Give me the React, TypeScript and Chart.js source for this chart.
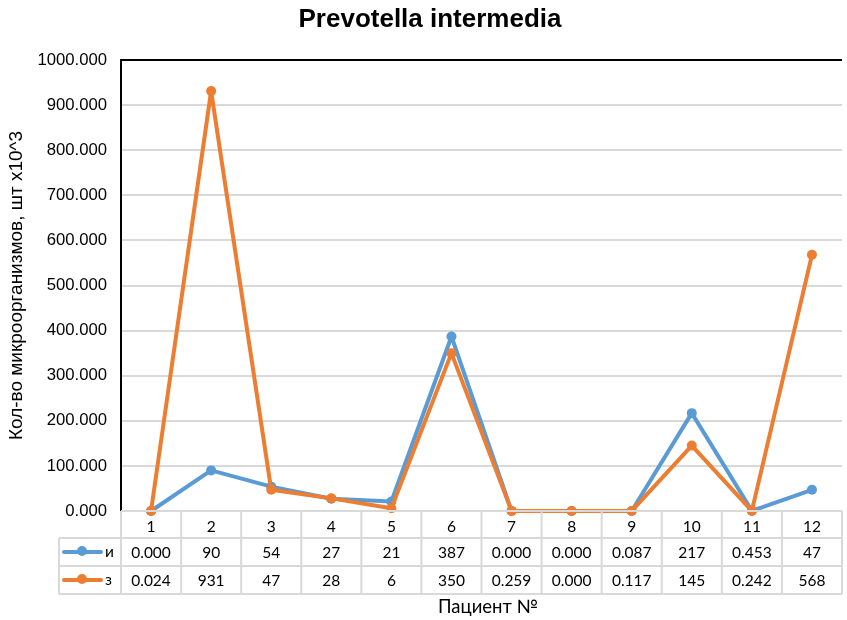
import React, { useEffect, useRef } from "react";
import { Chart, registerables } from "chart.js";

Chart.register(...registerables);

const categories = ["1", "2", "3", "4", "5", "6", "7", "8", "9", "10", "11", "12"];
const seriesNames = ["и", "з"];
const valuesI = [0, 90, 54, 27, 21, 387, 0, 0, 0.087, 217, 0.453, 47];
const valuesZ = [0.024, 931, 47, 28, 6, 350, 0.259, 0, 0.117, 145, 0.242, 568];
const labelsI = ["0.000", "90", "54", "27", "21", "387", "0.000", "0.000", "0.087", "217", "0.453", "47"];
const labelsZ = ["0.024", "931", "47", "28", "6", "350", "0.259", "0.000", "0.117", "145", "0.242", "568"];
const colors = ["#5B9BD5", "#ED7D31"];
const title = "Prevotella intermedia";
const yTitle = "Кол-во микроорганизмов, шт х10^3";
const xTitle = "Пациент №";

const TABLE_FONT = "15.5px Lato, 'Open Sans', sans-serif";

const tablePlugin = {
  id: "tablePlugin",
  afterDraw(chart: any) {
    const ctx = chart.ctx;
    const area = chart.chartArea;
    const x = chart.scales.x;
    const n = categories.length;
    const colW = (area.right - area.left) / n;
    const top = area.bottom;
    const rowH = [27, 28, 28];
    const y0 = top;
    const y1 = y0 + rowH[0];
    const y2 = y1 + rowH[1];
    const y3 = y2 + rowH[2];
    const legendLeft = 59;

    ctx.save();
    // title
    ctx.fillStyle = "#000";
    ctx.font = "bold 25px 'Liberation Sans', Arial, sans-serif";
    ctx.textAlign = "center";
    ctx.textBaseline = "alphabetic";
    const w = ctx.measureText(title).width;
    const sx = 263 / w;
    ctx.save();
    ctx.translate(430, 27);
    ctx.scale(sx, 1);
    ctx.fillText(title, 0, 0);
    ctx.restore();

    // top border
    ctx.strokeStyle = "#000";
    ctx.lineWidth = 2;
    ctx.beginPath();
    ctx.moveTo(area.left, area.top);
    ctx.lineTo(area.right, area.top);
    ctx.stroke();

    // table grid
    ctx.strokeStyle = "#d9d9d9";
    ctx.lineWidth = 2;
    ctx.beginPath();
    ctx.moveTo(area.left, y0);
    ctx.lineTo(area.right, y0);
    ctx.moveTo(legendLeft, y1);
    ctx.lineTo(area.right, y1);
    ctx.moveTo(legendLeft, y2);
    ctx.lineTo(area.right, y2);
    ctx.moveTo(legendLeft, y3);
    ctx.lineTo(area.right, y3);
    ctx.moveTo(legendLeft, y1);
    ctx.lineTo(legendLeft, y3);
    for (let i = 0; i <= n; i++) {
      const cx = area.left + i * colW;
      ctx.moveTo(cx, y0);
      ctx.lineTo(cx, y3);
    }
    ctx.stroke();

    // texts
    ctx.fillStyle = "#000";
    ctx.font = TABLE_FONT;
    ctx.textAlign = "center";
    ctx.textBaseline = "middle";
    for (let i = 0; i < n; i++) {
      const cx = x.getPixelForValue(i);
      ctx.fillText(categories[i], cx, (y0 + y1) / 2 + 2);
      ctx.fillText(labelsI[i], cx, (y1 + y2) / 2 + 1);
      ctx.fillText(labelsZ[i], cx, (y2 + y3) / 2 + 1);
    }

    // legend keys
    const rows = [(y1 + y2) / 2, (y2 + y3) / 2];
    rows.forEach((ry, k) => {
      ctx.strokeStyle = colors[k];
      ctx.lineWidth = 4;
      ctx.lineCap = "round";
      ctx.beginPath();
      ctx.moveTo(64, ry);
      ctx.lineTo(101, ry);
      ctx.stroke();
      ctx.fillStyle = colors[k];
      ctx.beginPath();
      ctx.arc(82, ry - 1, 5, 0, Math.PI * 2);
      ctx.fill();
      ctx.fillStyle = "#000";
      ctx.textAlign = "left";
      ctx.fillText(seriesNames[k], 105, ry);
    });

    // x title
    ctx.font = "18.5px Lato, 'Open Sans', sans-serif";
    ctx.textAlign = "center";
    ctx.fillText(xTitle, 488, 607);
    ctx.restore();
  },
};

export default function App() {
  const ref = useRef<HTMLCanvasElement>(null);
  useEffect(() => {
    const common = {
      borderWidth: 4,
      pointRadius: 5,
      pointBorderWidth: 0,
      tension: 0,
      borderJoinStyle: "round" as const,
      borderCapStyle: "round" as const,
      clip: false as const,
    };
    const chart = new Chart(ref.current!, {
      type: "line",
      data: {
        labels: categories,
        datasets: [
          {
            ...common,
            label: seriesNames[0],
            data: valuesI,
            borderColor: colors[0],
            backgroundColor: colors[0],
            pointBackgroundColor: colors[0],
            order: 1,
          },
          {
            ...common,
            label: seriesNames[1],
            data: valuesZ,
            borderColor: colors[1],
            backgroundColor: colors[1],
            pointBackgroundColor: colors[1],
            order: 0,
          },
        ],
      },
      options: {
        responsive: false,
        animation: false,
        layout: { padding: { top: 60, bottom: 109, left: 0, right: 0 } },
        plugins: {
          legend: { display: false },
          title: { display: false },
          tooltip: { enabled: false },
        },
        scales: {
          x: {
            display: false,
            offset: true,
          },
          y: {
            min: 0,
            max: 1000,
            afterFit: (s: any) => {
              s.width = 121;
            },
            ticks: {
              stepSize: 100,
              padding: 14,
              color: "#000",
              font: { family: "'Liberation Sans', Arial, sans-serif", size: 16.7 },
              callback: (v: any) => Number(v).toFixed(3),
            },
            grid: {
              color: "#d9d9d9",
              lineWidth: 2,
              drawTicks: false,
            },
            border: { color: "#000", width: 2 },
            title: {
              display: true,
              text: yTitle,
              color: "#000",
              font: { family: "'Liberation Sans', Arial, sans-serif", size: 19 },
              padding: { top: 5, bottom: 0 },
            },
          },
        },
      },
      plugins: [tablePlugin],
    });
    return () => chart.destroy();
  }, []);
  return (
    <div style={{ position: "absolute", left: 0, top: 0, width: 847, height: 620, background: "#fff" }}>
      <canvas ref={ref} width={847} height={620} />
    </div>
  );
}
